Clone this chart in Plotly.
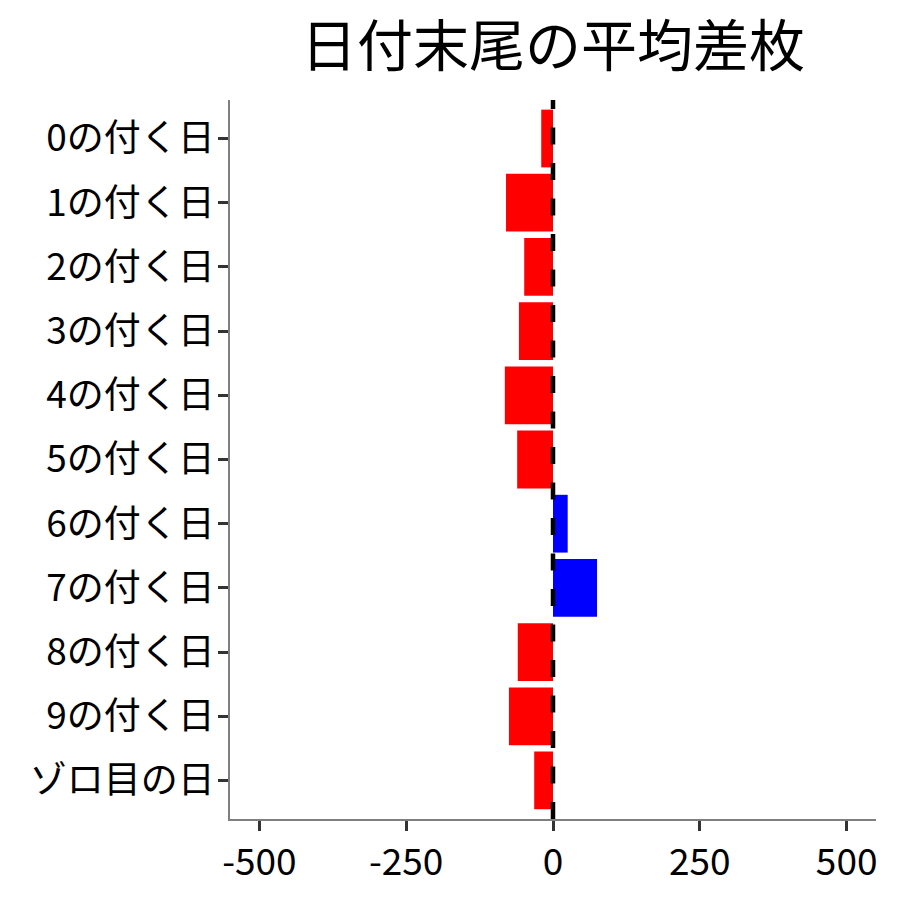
import plotly.graph_objects as go

categories = ["0の付く日", "1の付く日", "2の付く日", "3の付く日", "4の付く日",
              "5の付く日", "6の付く日", "7の付く日", "8の付く日", "9の付く日", "ゾロ目の日"]
values = [-20, -80, -49, -58, -82, -61, 25, 75, -60, -75, -32]
x_ticks = [-500, -250, 0, 250, 500]
title_text = "日付末尾の平均差枚"

colors = ["blue" if v > 0 else "red" for v in values]
FONT = "Noto Sans CJK JP"

fig = go.Figure()
fig.add_trace(go.Bar(
    x=values, y=categories, orientation="h",
    marker=dict(color=colors, line=dict(width=0)),
    width=0.9, showlegend=False,
))

fig.add_shape(type="line", xref="x", yref="paper", x0=0, x1=0, y0=0, y1=1,
              line=dict(color="black", width=4.5, dash="17px,18.5px"), layer="above")

L, R, T, B = 222, 32, 92, 89
fig.update_layout(
    width=900, height=900,
    margin=dict(l=L, r=R, t=T, b=B),
    paper_bgcolor="white", plot_bgcolor="white",
    font=dict(family=FONT, size=37, color="black"),
    title=dict(text=title_text, x=(L + (900 - R)) / 2 / 900, xanchor="center",
               y=1 - 38 / 900, yanchor="middle",
               font=dict(family=FONT, size=56, color="black")),
    bargap=0.1,
)
fig.update_xaxes(
    range=[-550, 550], tickvals=x_ticks, ticktext=[str(t) for t in x_ticks],
    showgrid=False, zeroline=False,
    showline=True, linecolor="#7f7f7f", linewidth=1.5,
    ticks="outside", ticklen=10, tickwidth=3, tickcolor="#333333",
    tickfont=dict(family=FONT, size=37, color="black"),
)
fig.update_yaxes(
    categoryorder="array", categoryarray=categories,
    range=[10.6, -0.6],
    showgrid=False, zeroline=False,
    showline=True, linecolor="#7f7f7f", linewidth=1.5,
    ticks="outside", ticklen=10, tickwidth=3, tickcolor="#333333",
    ticklabelstandoff=-4,
    tickfont=dict(family=FONT, size=37, color="black"),
)

fig.write_html("out.html")
